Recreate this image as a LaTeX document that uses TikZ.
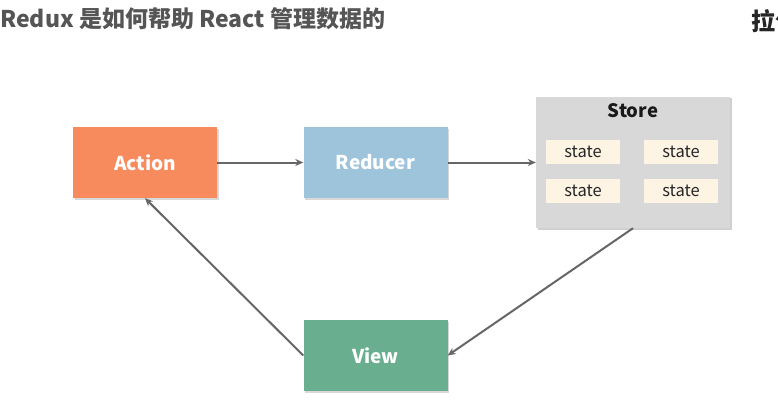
\documentclass[tikz,border=0pt]{standalone}
\usepackage{fontspec}
\setmainfont{Noto Sans CJK SC}
\usetikzlibrary{shadows,arrows.meta}
\definecolor{actionc}{HTML}{F88B5E}
\definecolor{reducerc}{HTML}{9EC4DB}
\definecolor{viewc}{HTML}{68AE8F}
\definecolor{storec}{HTML}{D8D8D8}
\definecolor{statec}{HTML}{FDF4E4}
\definecolor{arrowc}{HTML}{666666}
\definecolor{titlec}{HTML}{555555}
\begin{document}
\begin{tikzpicture}[x=1pt,y=-1pt,
  box/.style={minimum width=144pt,minimum height=71pt,inner sep=0pt,
    font=\fontsize{19}{22}\selectfont\bfseries,text=white,
    drop shadow={shadow xshift=1.5pt,shadow yshift=-1.5pt,opacity=0.25,fill=black!60}},
  statebox/.style={fill=statec,minimum width=74pt,minimum height=24pt,inner sep=0pt,
    font=\fontsize{16.5}{18}\selectfont,text=black!85},
  conn/.style={draw=arrowc,line width=2pt,-{Stealth[length=8pt,width=7pt]}}]
\useasboundingbox (0,0) rectangle (778,417);
\fill[white] (0,0) rectangle (778,417);
\node[anchor=west,text=titlec,font=\fontsize{23}{27}\selectfont\bfseries,inner sep=0pt] (title) at (0,19) {Redux 是如何帮助 React 管理数据的};
\begin{scope}
\clip (0,0) rectangle (778,417);
\node[anchor=west,text=black!85,font=\fontsize{24}{28}\selectfont\bfseries,inner sep=0pt] (logo) at (751,21) {拉勾};
\end{scope}
\node[box,fill=actionc] (action) at (145,162.5) {Action};
\node[box,fill=reducerc] (reducer) at (375.5,162.5) {Reducer};
\node[box,fill=viewc] (view) at (375.5,355.5) {View};
\node[fill=storec,minimum width=194pt,minimum height=131pt,inner sep=0pt,
  drop shadow={shadow xshift=1.5pt,shadow yshift=-1.5pt,opacity=0.3,fill=black!60}] (store) at (633,162.5) {};
\node[font=\fontsize{18.5}{20}\selectfont\bfseries,text=black!90] (storelabel) at (633,111) {Store};
\node[statebox] (s1) at (583,152) {state};
\node[statebox] (s2) at (681,152) {state};
\node[statebox] (s3) at (583,191) {state};
\node[statebox] (s4) at (681,191) {state};
\draw[conn] (action.east) -- (reducer.west);
\draw[conn] (reducer.east) -- (store.west);
\draw[conn] (store.south) -- (view.east);
\draw[conn] (view.west) -- (action.south);
\end{tikzpicture}
\end{document}
